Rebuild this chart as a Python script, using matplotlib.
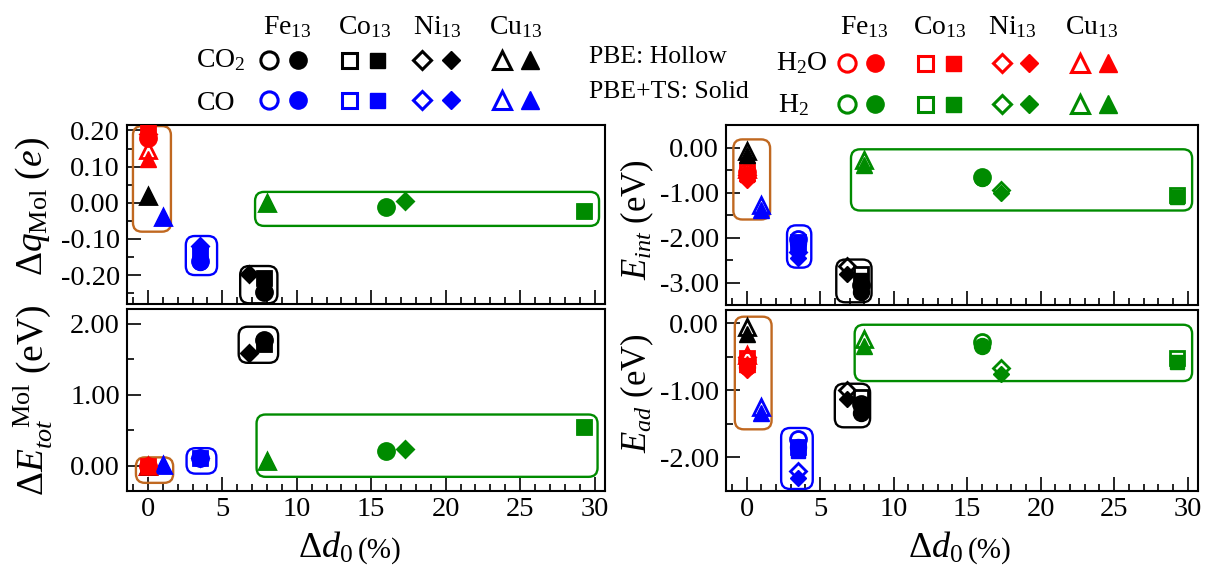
import matplotlib
matplotlib.use("Agg")
import matplotlib.pyplot as plt
from matplotlib.patches import FancyBboxPatch
from matplotlib.transforms import IdentityTransform
from matplotlib.ticker import MultipleLocator, FormatStrFormatter

plt.rcParams['font.family'] = ['Liberation Serif', 'DejaVu Serif']
plt.rcParams['mathtext.fontset'] = 'custom'
plt.rcParams['mathtext.rm'] = 'Liberation Serif'
plt.rcParams['mathtext.it'] = 'Liberation Serif:italic'
plt.rcParams['mathtext.bf'] = 'Liberation Serif:bold'
plt.rcParams['axes.unicode_minus'] = False

# ---------------- data (order of every list: Fe13, Co13, Ni13, Cu13) ----------------
clusters = ['Fe$_{13}$', 'Co$_{13}$', 'Ni$_{13}$', 'Cu$_{13}$']
molecules = ['CO$_2$', 'CO', 'H$_2$O', 'H$_2$']

# distortion of the cluster, Δd0 (%)
d0_CO2 = [7.8, 7.8, 6.8, 0.0]
d0_CO = [3.5, 3.5, 3.5, 1.0]
d0_H2O = [0.0, 0.0, 0.0, 0.0]
d0_H2 = [16.0, 29.3, 17.3, 8.0]

# charge transfer to the molecule, Δq_Mol (e)
dq_CO2_pbe = [-0.247, -0.208, -0.198, 0.019]
dq_CO2_ts = [-0.247, -0.208, -0.198, 0.019]
dq_CO_pbe = [-0.160, -0.140, -0.120, -0.040]
dq_CO_ts = [-0.163, -0.145, -0.125, -0.040]
dq_H2O_pbe = [0.180, 0.200, 0.190, 0.145]
dq_H2O_ts = [0.180, 0.200, 0.190, 0.120]
dq_H2_pbe = [-0.012, -0.022, 0.006, 0.000]
dq_H2_ts = [-0.012, -0.022, 0.006, 0.000]

# molecular distortion energy, ΔE_tot^Mol (eV)
et_CO2_pbe = [1.77, 1.71, 1.59, 0.00]
et_CO2_ts = [1.77, 1.71, 1.59, 0.00]
et_CO_pbe = [0.11, 0.11, 0.11, 0.01]
et_CO_ts = [0.11, 0.11, 0.11, 0.01]
et_H2O_pbe = [0.00, 0.00, 0.00, 0.00]
et_H2O_ts = [0.00, 0.00, 0.00, 0.00]
et_H2_pbe = [0.21, 0.54, 0.24, 0.07]
et_H2_ts = [0.21, 0.54, 0.24, 0.07]

# interaction energy, E_int (eV)
ei_CO2_pbe = [-3.05, -2.80, -2.64, -0.07]
ei_CO2_ts = [-3.20, -2.95, -2.80, -0.17]
ei_CO_pbe = [-2.04, -2.10, -2.33, -1.27]
ei_CO_ts = [-2.12, -2.18, -2.45, -1.38]
ei_H2O_pbe = [-0.55, -0.50, -0.60, -0.48]
ei_H2O_ts = [-0.64, -0.60, -0.72, -0.56]
ei_H2_pbe = [-0.66, -1.05, -0.95, -0.27]
ei_H2_ts = [-0.67, -1.09, -1.00, -0.38]

# adsorption energy, E_ad (eV)
ea_CO2_pbe = [-1.20, -1.10, -0.99, -0.06]
ea_CO2_ts = [-1.33, -1.22, -1.13, -0.16]
ea_CO_pbe = [-1.73, -1.85, -2.20, -1.24]
ea_CO_ts = [-1.85, -1.90, -2.30, -1.33]
ea_H2O_pbe = [-0.55, -0.52, -0.50, -0.47]
ea_H2O_ts = [-0.65, -0.62, -0.70, -0.60]
ea_H2_pbe = [-0.28, -0.51, -0.66, -0.24]
ea_H2_ts = [-0.34, -0.57, -0.76, -0.33]

d0 = [d0_CO2, d0_CO, d0_H2O, d0_H2]
panels = [
    ([dq_CO2_pbe, dq_CO_pbe, dq_H2O_pbe, dq_H2_pbe], [dq_CO2_ts, dq_CO_ts, dq_H2O_ts, dq_H2_ts]),
    ([et_CO2_pbe, et_CO_pbe, et_H2O_pbe, et_H2_pbe], [et_CO2_ts, et_CO_ts, et_H2O_ts, et_H2_ts]),
    ([ei_CO2_pbe, ei_CO_pbe, ei_H2O_pbe, ei_H2_pbe], [ei_CO2_ts, ei_CO_ts, ei_H2O_ts, ei_H2_ts]),
    ([ea_CO2_pbe, ea_CO_pbe, ea_H2O_pbe, ea_H2_pbe], [ea_CO2_ts, ea_CO_ts, ea_H2O_ts, ea_H2_ts]),
]

# ---------------- styling ----------------
mol_colors = ['black', 'blue', 'red', '#008B00']
cl_markers = ['o', 's', 'D', '^']
cl_sizes = {'o': 11.5, 's': 10.0, 'D': 8.5, '^': 12.0}
ORANGE = '#C06820'

# group outlines (x0, x1, y0, y1, colour) in data units
boxes = [
    [(-1.0, 1.55, -0.080, 0.212, ORANGE), (2.55, 4.65, -0.200, -0.092, 'blue'),
     (6.2, 8.7, -0.278, -0.175, 'black'), (7.2, 30.3, -0.064, 0.030, '#008B00')],
    [(-0.8, 1.7, -0.245, 0.115, ORANGE), (2.6, 4.6, -0.115, 0.245, 'blue'),
     (6.1, 8.75, 1.45, 1.96, 'black'), (7.3, 30.2, -0.16, 0.72, '#008B00')],
    [(-0.9, 1.6, -1.60, 0.18, ORANGE), (2.75, 4.4, -2.67, -1.73, 'blue'),
     (6.1, 8.5, -3.44, -2.49, 'black'), (7.1, 30.3, -1.40, -0.04, '#008B00')],
    [(-0.8, 1.7, -1.58, 0.10, ORANGE), (2.35, 4.5, -2.47, -1.56, 'blue'),
     (6.0, 8.4, -1.55, -0.90, 'black'), (7.35, 30.3, -0.86, -0.02, '#008B00')],
]

W, H = 1205, 575
fig = plt.figure(figsize=(W / 100, H / 100), dpi=100)


def frac(l, t, r, b):
    return [l / W, 1 - b / H, (r - l) / W, (b - t) / H]


axes = [
    fig.add_axes(frac(127, 125, 605, 304)),
    fig.add_axes(frac(127, 309, 605, 491)),
    fig.add_axes(frac(726, 125, 1198, 305)),
    fig.add_axes(frac(726, 310, 1198, 491)),
]
ylims = [(-0.28, 0.215), (-0.36, 2.21), (-3.5, 0.5), (-2.5, 0.2)]
ymaj = [0.1, 1.0, 1.0, 1.0]
ymin = [0.05, 0.5, 0.5, 0.5]
TICK_FS = 20.5

for k, ax in enumerate(axes):
    ax.set_xlim(-1.4, 30.7)
    ax.set_ylim(*ylims[k])
    ax.xaxis.set_major_locator(MultipleLocator(5))
    ax.xaxis.set_minor_locator(MultipleLocator(1))
    ax.yaxis.set_major_locator(MultipleLocator(ymaj[k]))
    ax.yaxis.set_minor_locator(MultipleLocator(ymin[k]))
    ax.yaxis.set_major_formatter(FormatStrFormatter('%.2f'))
    ax.tick_params(which='both', direction='in', top=False, right=False,
                   labelsize=TICK_FS, width=1.2)
    ax.tick_params(which='major', length=10)
    ax.tick_params(which='minor', length=5)
    ax.tick_params(axis='y', pad=5)
    ax.tick_params(axis='x', pad=4)
    if k in (0, 2):
        ax.tick_params(axis='x', labelbottom=False)
    for s in ax.spines.values():
        s.set_linewidth(1.5)

    pbe, ts = panels[k]
    for m in range(4):
        for c in range(4):
            mk = cl_markers[c]
            ax.plot(d0[m][c], pbe[m][c], linestyle='none', marker=mk, ms=cl_sizes[mk],
                    mfc='none', mec=mol_colors[m], mew=2.0, zorder=3)
            ax.plot(d0[m][c], ts[m][c], linestyle='none', marker=mk, ms=cl_sizes[mk],
                    mfc=mol_colors[m], mec=mol_colors[m], mew=1.0, zorder=4)

    for (x0, x1, y0, y1, col) in boxes[k]:
        p0 = ax.transData.transform((x0, y0))
        p1 = ax.transData.transform((x1, y1))
        patch = FancyBboxPatch((p0[0], p0[1]), p1[0] - p0[0], p1[1] - p0[1],
                               boxstyle='round,pad=0,rounding_size=9',
                               transform=IdentityTransform(), fill=False,
                               ec=col, lw=1.7, clip_on=False, zorder=2)
        ax.add_patch(patch)

# axis titles
LAB_FS = 27
fig.text(33 / W, 1 - 207 / H, r'$\Delta q_{\mathrm{Mol}}$ ($e$)', rotation=90,
         ha='center', va='center', fontsize=LAB_FS)
fig.text(33 / W, 1 - 400 / H, r'$\Delta E_{tot}^{\quad\mathrm{Mol}}$ (eV)', rotation=90,
         ha='center', va='center', fontsize=LAB_FS)
fig.text(637 / W, 1 - 220 / H, r'$E_{int}$ (eV)', rotation=90,
         ha='center', va='center', fontsize=LAB_FS - 2)
fig.text(637 / W, 1 - 393 / H, r'$E_{ad}$ (eV)', rotation=90,
         ha='center', va='center', fontsize=LAB_FS - 2)
for xl in (298, 908):
    fig.text(xl / W, 1 - 558 / H, r'$\Delta d_{\mathit{0}}$', ha='left', va='baseline',
             fontsize=26)
    fig.text((xl + 60) / W, 1 - 558 / H, '(%)', ha='left', va='baseline', fontsize=21)

# ---------------- legend block drawn in pixel coordinates ----------------
lax = fig.add_axes([0, 0, 1, 1], zorder=10)
lax.set_xlim(0, W)
lax.set_ylim(H, 0)
lax.axis('off')
LEG_FS = 20

left_pairs = [(269, 298), (349, 377), (422, 451), (502, 530)]
left_heads = [287, 365, 437, 516]
right_pairs = [(847, 875), (925, 953), (1002, 1029), (1080, 1108)]
right_heads = [864, 940, 1012, 1092]

for c in range(4):
    lax.text(left_heads[c], 34, clusters[c], ha='center', va='baseline', fontsize=LEG_FS)
    lax.text(right_heads[c], 34, clusters[c], ha='center', va='baseline', fontsize=LEG_FS)

rows = [(0, left_pairs, 60, 221, 67), (1, left_pairs, 100, 216, 110),
        (2, right_pairs, 63, 802, 70), (3, right_pairs, 104, 794, 112)]
for m, pairs, ym, xl, yl in rows:
    lax.text(xl, yl, molecules[m], ha='center', va='baseline', fontsize=LEG_FS)
    for c in range(4):
        mk = cl_markers[c]
        lax.plot(pairs[c][0], ym, linestyle='none', marker=mk, ms=cl_sizes[mk] * 1.08,
                 mfc='none', mec=mol_colors[m], mew=2.2)
        lax.plot(pairs[c][1], ym, linestyle='none', marker=mk, ms=cl_sizes[mk] * 1.08,
                 mfc=mol_colors[m], mec=mol_colors[m], mew=1.0)

lax.text(589, 63, 'PBE: Hollow', ha='left', va='baseline', fontsize=18.5)
lax.text(589, 98, 'PBE+TS: Solid', ha='left', va='baseline', fontsize=18.5)

fig.savefig('out.png', dpi=100)
